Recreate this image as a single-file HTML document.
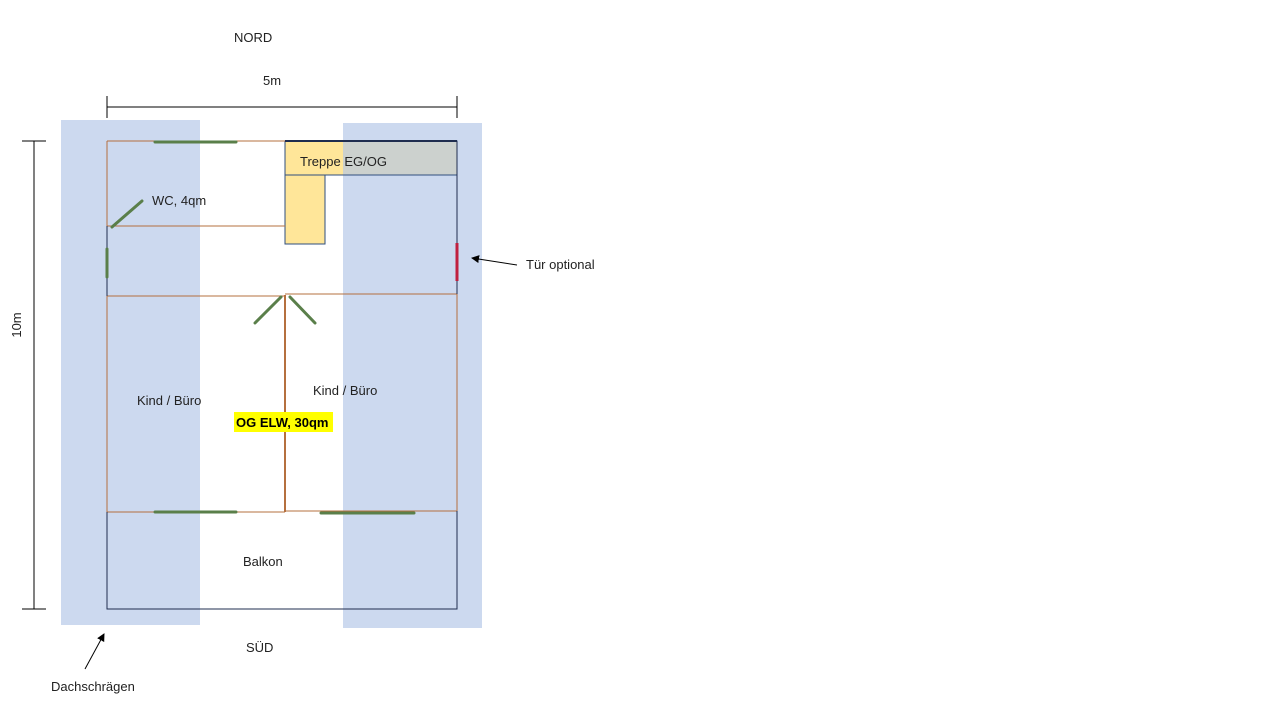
<!DOCTYPE html>
<html><head><meta charset="utf-8"><style>
body{margin:0;background:#fff}
svg text{font-family:"Liberation Sans",sans-serif;font-size:13px;fill:#222}
</style></head><body>
<svg width="1280" height="720" viewBox="0 0 1280 720" xmlns="http://www.w3.org/2000/svg">
<defs><marker id="a" markerWidth="8" markerHeight="8" refX="7" refY="4" orient="auto"><path d="M0,0 L8,4 L0,8 z" fill="#000"/></marker></defs>
<rect x="285" y="141" width="172" height="34" fill="#ffe699"/>
<rect x="285" y="175" width="40" height="69" fill="#ffe699"/>
<rect x="61" y="120" width="139" height="505" fill="#b4c7e7" fill-opacity="0.68"/>
<rect x="343" y="123" width="139" height="505" fill="#b4c7e7" fill-opacity="0.68"/>
<rect x="285" y="141" width="172" height="34" fill="none" stroke="#2f4f7f" stroke-width="1"/>
<rect x="285" y="175" width="40" height="69" fill="none" stroke="#2f4f7f" stroke-width="1"/>
<g stroke="#b5703f" stroke-width="1" fill="none">
<line x1="107" y1="141" x2="285" y2="141"/>
<line x1="107" y1="141" x2="107" y2="226"/>
<line x1="107" y1="226" x2="285" y2="226"/>
<line x1="107" y1="296" x2="285" y2="296"/>
<line x1="285" y1="294" x2="457" y2="294"/>
<line x1="107" y1="296" x2="107" y2="512"/>
<line x1="457" y1="294" x2="457" y2="511"/>
<line x1="107" y1="512" x2="285" y2="512"/>
<line x1="285" y1="511" x2="457" y2="511"/>
<line x1="285" y1="295" x2="285" y2="512" stroke-width="2"/>
</g>
<g stroke="#1f2d4f" stroke-width="1" fill="none">
<line x1="285" y1="141" x2="457" y2="141" stroke-width="2"/>
<line x1="457" y1="141" x2="457" y2="294"/>
<line x1="107" y1="226" x2="107" y2="296"/>
<path d="M107 512 V609 H457 V511"/>
</g>
<g stroke="#5a7f4a" stroke-width="3" stroke-linecap="round">
<line x1="155" y1="142" x2="236" y2="142"/>
<line x1="155" y1="512" x2="236" y2="512"/>
<line x1="321" y1="513" x2="414" y2="513"/>
<line x1="112" y1="227" x2="142" y2="201"/>
<line x1="107" y1="249" x2="107" y2="277"/>
<line x1="255" y1="323" x2="281" y2="297"/>
<line x1="290" y1="297" x2="315" y2="323"/>
</g>
<line x1="457" y1="243" x2="457" y2="281" stroke="#c0203f" stroke-width="3"/>
<g stroke="#000" stroke-width="1">
<line x1="107" y1="107" x2="457" y2="107"/>
<line x1="107" y1="96" x2="107" y2="118"/>
<line x1="457" y1="96" x2="457" y2="118"/>
<line x1="34" y1="141" x2="34" y2="609"/>
<line x1="22" y1="141" x2="46" y2="141"/>
<line x1="22" y1="609" x2="46" y2="609"/>
<line x1="517" y1="265" x2="472" y2="258" marker-end="url(#a)"/>
<line x1="85" y1="669" x2="104" y2="634" marker-end="url(#a)"/>
</g>
<text x="234" y="42">NORD</text>
<text x="263" y="85">5m</text>
<text x="21" y="325" transform="rotate(-90 21 325)" text-anchor="middle">10m</text>
<text x="300" y="166">Treppe EG/OG</text>
<text x="152" y="205">WC, 4qm</text>
<text x="526" y="269">Tür optional</text>
<text x="137" y="405">Kind / Büro</text>
<text x="313" y="395">Kind / Büro</text>
<rect x="234" y="412" width="99" height="20" fill="#ffff00"/>
<text x="236" y="427" style="font-weight:bold;fill:#000">OG ELW, 30qm</text>
<text x="243" y="566">Balkon</text>
<text x="246" y="652">SÜD</text>
<text x="51" y="691">Dachschrägen</text>
</svg>
</body></html>
